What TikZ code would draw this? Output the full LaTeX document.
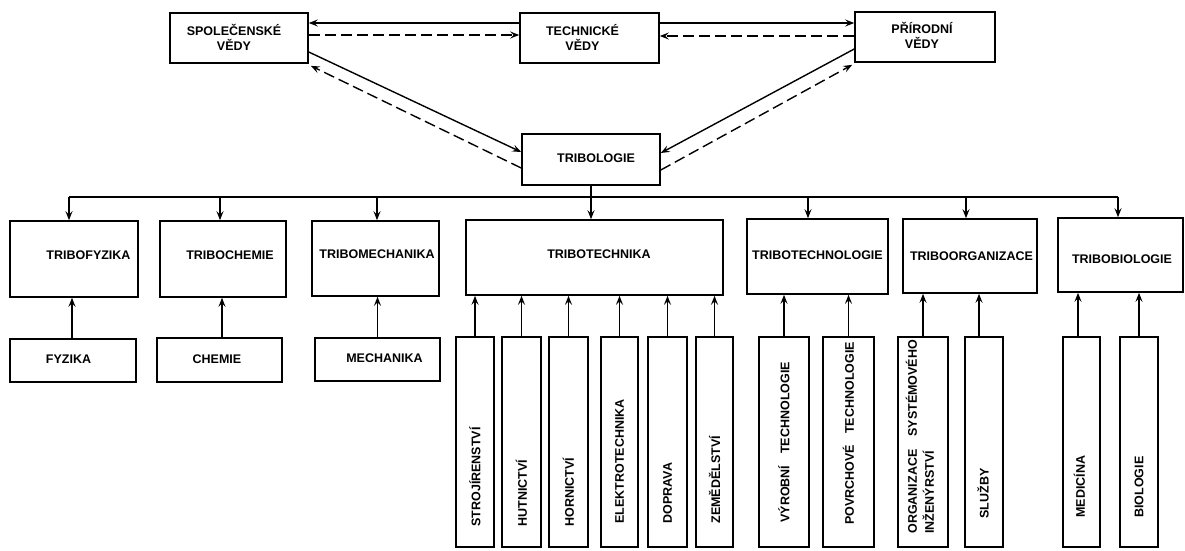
\documentclass[tikz,border=0pt]{standalone}
\usepackage{fontspec}
\setmainfont{Liberation Sans}
\usetikzlibrary{arrows.meta}
\begin{document}
\begin{tikzpicture}[x=1pt,y=-1pt,
  box/.style={draw, line width=1.6pt, inner sep=0pt},
  lbl/.style={inner sep=0pt, font=\bfseries\fontsize{12.5}{15}\selectfont, align=center},
  vbox/.style={draw, line width=1.6pt, inner sep=0pt, minimum height=210pt},
  vtext/.style={rotate=90, anchor=west, inner sep=0pt, font=\bfseries\fontsize{12.5}{17}\selectfont, align=left},
  arr/.style={line width=1.4pt, -{Stealth[length=9pt,width=7pt,inset=3.5pt]}},
  dsh/.style={arr, dash pattern=on 11pt off 5pt},
  link/.style={line width=1.4pt}
]
\useasboundingbox[fill=white] (0,0) rectangle (1185,550);

% sciences
\node[box, minimum width=138pt, minimum height=50pt,
      label={[lbl,xshift=-5pt,yshift=1pt]center:SPOLEČENSKÉ\\VĚDY}] (sv) at (239,38) {};
\node[box, minimum width=139pt, minimum height=50pt,
      label={[lbl,xshift=-7pt,yshift=1pt]center:TECHNICKÉ\\VĚDY}] (tv) at (589.5,38) {};
\node[box, minimum width=140pt, minimum height=50pt,
      label={[lbl,xshift=-3pt,yshift=2pt]center:PŘÍRODNÍ\\VĚDY}] (pv) at (925,37) {};
\node[box, minimum width=138pt, minimum height=51pt,
      label={[lbl,xshift=5pt,yshift=1pt]center:TRIBOLOGIE}] (trib) at (591,159.5) {};

% tribology branches
\node[box, minimum width=128pt, minimum height=76pt,
      label={[lbl,xshift=14.5pt,yshift=4pt]center:TRIBOFYZIKA}] (tfyz) at (74,259) {};
\node[box, minimum width=126pt, minimum height=76pt,
      label={[lbl,xshift=7pt,yshift=4pt]center:TRIBOCHEMIE}] (tchem) at (223,259) {};
\node[box, minimum width=127pt, minimum height=75pt,
      label={[lbl,xshift=1.5pt,yshift=4pt]center:TRIBOMECHANIKA}] (tmech) at (375.5,258.5) {};
\node[box, minimum width=257pt, minimum height=75pt,
      label={[lbl,xshift=4.5pt,yshift=3pt]center:TRIBOTECHNIKA}] (ttech) at (594.5,257.5) {};
\node[box, minimum width=141pt, minimum height=75pt,
      label={[lbl,yshift=1pt]center:TRIBOTECHNOLOGIE}] (ttechn) at (817.5,256.5) {};
\node[box, minimum width=134pt, minimum height=74pt,
      label={[lbl,xshift=1.5pt]center:TRIBOORGANIZACE}] (torg) at (970,256) {};
\node[box, minimum width=125pt, minimum height=74pt,
      label={[lbl,xshift=1.5pt,yshift=-4pt]center:TRIBOBIOLOGIE}] (tbio) at (1120.5,255) {};

% basic sciences
\node[box, minimum width=126pt, minimum height=43pt,
      label={[lbl,xshift=-4.5pt,yshift=1pt]center:FYZIKA}] (fyz) at (73,360.5) {};
\node[box, minimum width=125pt, minimum height=44pt,
      label={[lbl,xshift=-2.5pt,yshift=1pt]center:CHEMIE}] (chem) at (219.5,360) {};
\node[box, minimum width=125pt, minimum height=43pt,
      label={[lbl,xshift=7pt,yshift=1pt]center:MECHANIKA}] (mech) at (377.5,359.5) {};

% fields of application
\node[vbox, minimum width=38pt] (s1) at (475,442) {};
\node[vbox, minimum width=39pt] (s2) at (521.5,442) {};
\node[vbox, minimum width=39pt] (s3) at (568.5,442) {};
\node[vbox, minimum width=37pt] (s4) at (619.5,442) {};
\node[vbox, minimum width=39pt] (s5) at (667.5,442) {};
\node[vbox, minimum width=37pt] (s6) at (714.5,442) {};
\node[vbox, minimum width=50pt] (v1) at (784,442) {};
\node[vbox, minimum width=51pt] (v2) at (848.5,442) {};
\node[vbox, minimum width=50pt] (o1) at (923,442) {};
\node[vbox, minimum width=38pt] (o2) at (984,442) {};
\node[vbox, minimum width=37pt] (b1) at (1081.5,442) {};
\node[vbox, minimum width=38pt] (b2) at (1139,442) {};

\node[vtext] (ts1) at ([yshift=21pt]s1.south) {STROJÍRENSTVÍ};
\node[vtext] (ts2) at ([yshift=21pt]s2.south) {HUTNICTVÍ};
\node[vtext] (ts3) at ([yshift=21pt]s3.south) {HORNICTVÍ};
\node[vtext] (ts4) at ([yshift=24pt]s4.south) {ELEKTROTECHNIKA};
\node[vtext] (ts5) at ([yshift=24pt]s5.south) {DOPRAVA};
\node[vtext] (ts6) at ([yshift=24pt]s6.south) {ZEMĚDĚLSTVÍ};
\node[vtext] (tv1) at ([yshift=25pt]v1.south) {VÝROBNÍ\hspace{12pt}TECHNOLOGIE};
\node[vtext] (tv2) at ([yshift=23pt]v2.south) {POVRCHOVÉ\hspace{11pt}TECHNOLOGIE};
\node[vtext] (to1) at ([yshift=14pt,xshift=-3pt]o1.south) {ORGANIZACE\hspace{13pt}SYSTÉMOVÉHO\\INŽENÝRSTVÍ};
\node[vtext] (to2) at ([yshift=29pt,xshift=-1pt]o2.south) {SLUŽBY};
\node[vtext] (tb1) at ([yshift=30pt,xshift=-2pt]b1.south) {MEDICÍNA};
\node[vtext] (tb2) at ([yshift=30pt]b2.south) {BIOLOGIE};

% links between the sciences
\draw[arr] ([yshift=15pt]tv.west) -- ([yshift=15pt]sv.east);
\draw[dsh] ([yshift=3pt]sv.east) -- ([yshift=3pt]tv.west);
\draw[arr] ([yshift=15pt]tv.east) -- ([yshift=14pt]pv.west);
\draw[dsh] ([yshift=1pt]pv.west) -- ([yshift=2pt]tv.east);
\draw[arr] ([yshift=-14pt]sv.east) -- ([yshift=7.5pt]trib.west);
\draw[dsh] ([yshift=-8.5pt]trib.west) -- ([xshift=2pt,yshift=-2pt]sv.south east);
\draw[arr] ([yshift=-12pt]pv.west) -- ([yshift=6.5pt]trib.east);
\draw[dsh] ([yshift=-10.5pt]trib.east) -- ([xshift=-2pt,yshift=-2pt]pv.south west);

% distribution line
\coordinate (d1) at (69,197);
\coordinate (d2) at (220,197);
\coordinate (d3) at (377,197);
\coordinate (d5) at (808,197);
\coordinate (d6) at (966,197);
\coordinate (d7) at (1118,197);
\draw[link] (d1) -- (d7);
\draw[arr] (d1) -- (d1 |- tfyz.north);
\draw[arr] (d2) -- (d2 |- tchem.north);
\draw[arr] (d3) -- (d3 |- tmech.north);
\draw[arr] (trib.south) -- (trib.south |- ttech.north);
\draw[arr] (d5) -- (d5 |- ttechn.north);
\draw[arr] (d6) -- (d6 |- torg.north);
\draw[arr] (d7) -- (d7 |- tbio.north);

% inputs from below
\draw[arr] ([xshift=-1pt]fyz.north) -- ([xshift=-1pt]fyz.north |- tfyz.south);
\draw[arr] ([xshift=2.5pt]chem.north) -- ([xshift=2.5pt]chem.north |- tchem.south);
\draw[arr] (mech.north) -- (mech.north |- tmech.south);
\foreach \n in {s1,s2,s3,s4,s5,s6}
  \draw[arr] (\n.north) -- (\n.north |- ttech.south);
\draw[arr] (v1.north) -- (v1.north |- ttechn.south);
\draw[arr] (v2.north) -- (v2.north |- ttechn.south);
\draw[arr] (o1.north) -- (o1.north |- torg.south);
\draw[arr] ([xshift=-5pt]o2.north) -- ([xshift=-5pt]o2.north |- torg.south);
\draw[arr] ([xshift=-3.5pt]b1.north) -- ([xshift=-3.5pt]b1.north |- tbio.south);
\draw[arr] (b2.north) -- (b2.north |- tbio.south);
\end{tikzpicture}
\end{document}
